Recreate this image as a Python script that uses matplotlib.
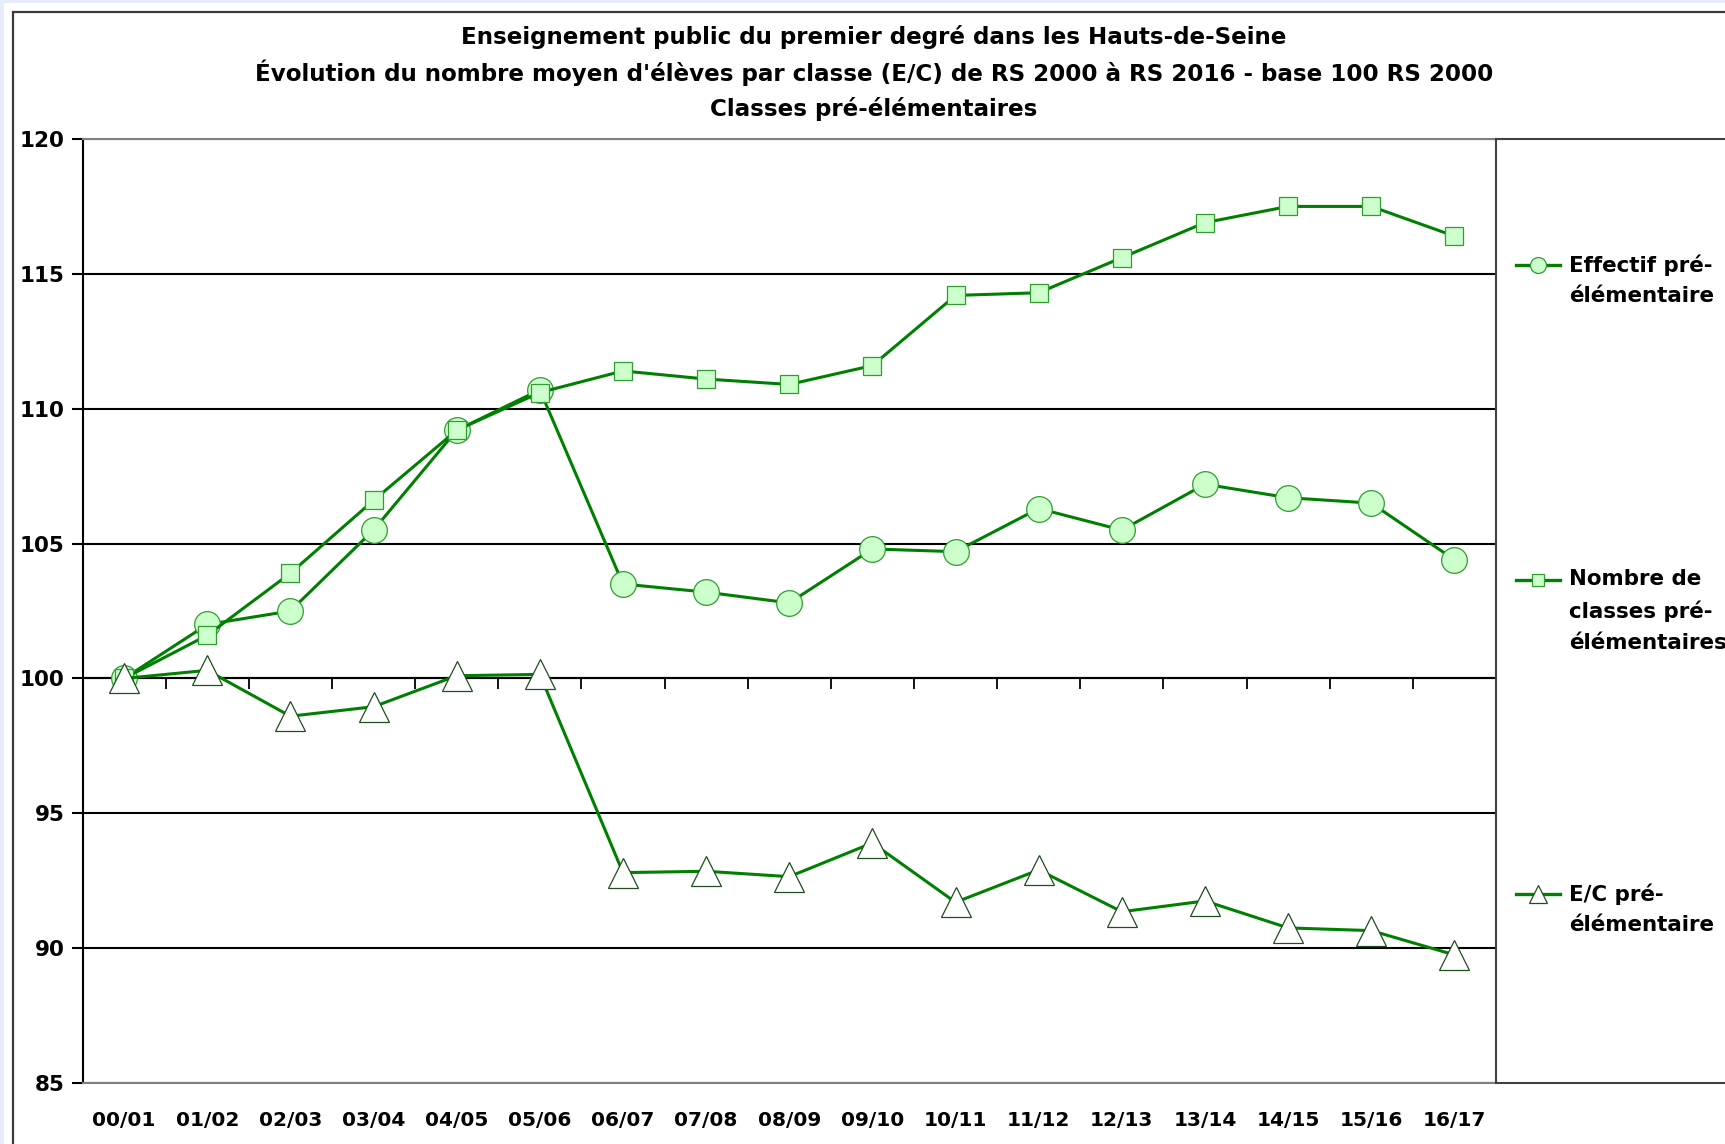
import matplotlib.pyplot as plt
from matplotlib.patches import Rectangle
from matplotlib.lines import Line2D
import numpy as np

plt.rcParams['font.family'] = 'DejaVu Sans'
plt.rcParams['font.weight'] = 'bold'

years = ['00/01', '01/02', '02/03', '03/04', '04/05', '05/06', '06/07', '07/08',
         '08/09', '09/10', '10/11', '11/12', '12/13', '13/14', '14/15', '15/16', '16/17']

effectif = [100, 102.0, 102.5, 105.5, 109.2, 110.7, 103.5, 103.2, 102.8,
            104.8, 104.7, 106.3, 105.5, 107.2, 106.7, 106.5, 104.4]
classes = [100, 101.6, 103.9, 106.6, 109.2, 110.6, 111.4, 111.1, 110.9,
           111.6, 114.2, 114.3, 115.6, 116.9, 117.5, 117.5, 116.4]
ec = [100, 100.3, 98.6, 98.95, 100.1, 100.15, 92.8, 92.85, 92.65,
      93.9, 91.7, 92.9, 91.35, 91.75, 90.75, 90.65, 89.75]

labels = ['Effectif pré-\nélémentaire',
          'Nombre de\nclasses pré-\nélémentaires',
          'E/C pré-\nélémentaire']

title_lines = ['Enseignement public du premier degré dans les Hauts-de-Seine',
               "Évolution du nombre moyen d'élèves par classe (E/C) de RS 2000 à RS 2016 - base 100 RS 2000",
               'Classes pré-élémentaires']

ymin, ymax = 85, 120
W, H = 1725, 1144

line_col = '#008000'
styles = [
    dict(marker='o', markersize=18.5, markerfacecolor='#ccffcc', markeredgecolor='#2e9e2e', markeredgewidth=0.9),
    dict(marker='s', markersize=13.5, markerfacecolor='#ccffcc', markeredgecolor='#2e9e2e', markeredgewidth=0.9),
    dict(marker='^', markersize=22, markerfacecolor='white', markeredgecolor='#1f4f1f', markeredgewidth=0.9),
]

fig = plt.figure(figsize=(W / 100, H / 100), dpi=100, facecolor='#e6ecfb')

# white chart area + dark frame
fig.add_artist(Rectangle((4 / W, 0), 1, 1 - 3 / H, transform=fig.transFigure,
                         facecolor='white', edgecolor='none', zorder=-10))
fig.add_artist(Rectangle((13 / W, -0.1), 1.2, 1.1 - 12 / H, transform=fig.transFigure,
                         facecolor='none', edgecolor='#3a3a3a', linewidth=1.6, zorder=-9))

left, right, top, bottom = 82.5, 1496, 139, 1083
ax = fig.add_axes([left / W, 1 - bottom / H, (right - left) / W, (bottom - top) / H])
ax.set_facecolor('none')

x = np.arange(len(years))
for vals, st in zip([effectif, classes, ec], styles):
    ax.plot(x, vals, color=line_col, linewidth=2.2, **st)

ax.set_xlim(-0.5, len(years) - 0.5)
ax.set_ylim(ymin, ymax)

ax.set_yticks(np.arange(ymin, ymax + 1, 5))
ax.tick_params(axis='y', direction='out', length=8, width=1.5, pad=5, labelsize=15.5)
ax.set_xticks(x, years)
ax.tick_params(axis='x', length=0, pad=20, labelsize=14.5)

ax.yaxis.grid(True, color='black', linewidth=1.5)
ax.set_axisbelow(True)
ax.spines['left'].set_color('black')
ax.spines['left'].set_linewidth(1.5)
for s in ['top', 'bottom']:
    ax.spines[s].set_color('#808080')
    ax.spines[s].set_linewidth(1.5)
ax.spines['right'].set_visible(False)

# category axis crossing at 100
sec = ax.secondary_xaxis((100 - ymin) / (ymax - ymin))
sec.set_xticks(x[:-1] + 0.5)
sec.set_xticklabels([])
sec.tick_params(axis='x', direction='out', length=8, width=1.3, color='black')
sec.spines['bottom'].set_color('black')
sec.spines['bottom'].set_linewidth(1.5)

# legend box
lw_px = 260
lax = fig.add_axes([right / W, 1 - bottom / H, lw_px / W, (bottom - top) / H])
lax.set_xlim(0, lw_px)
lax.set_ylim(bottom - top, 0)
lax.set_xticks([])
lax.set_yticks([])
for s in lax.spines.values():
    s.set_color('#404040')
    s.set_linewidth(1.5)

handle_y = [126, 441, 755]
nlines = [2, 3, 2]
for hy, n, lab, st in zip(handle_y, nlines, labels, styles):
    st2 = dict(st)
    st2['markersize'] = st['markersize'] * 0.62
    lax.add_line(Line2D([20, 42, 64], [hy, hy, hy], color=line_col, linewidth=2.4,
                        markevery=[1], **st2))
    lax.text(73, hy + (n - 1) * 15.4, lab, va='center', ha='left', fontsize=15.4,
             fontweight='bold', linespacing=1.66)

for i, t in enumerate(title_lines):
    fig.text(874 / W, 1 - (37 + 36 * i) / H, t, ha='center', va='center',
             fontsize=16.6, fontweight='bold')

fig.savefig('out.png', dpi=100, facecolor=fig.get_facecolor())
